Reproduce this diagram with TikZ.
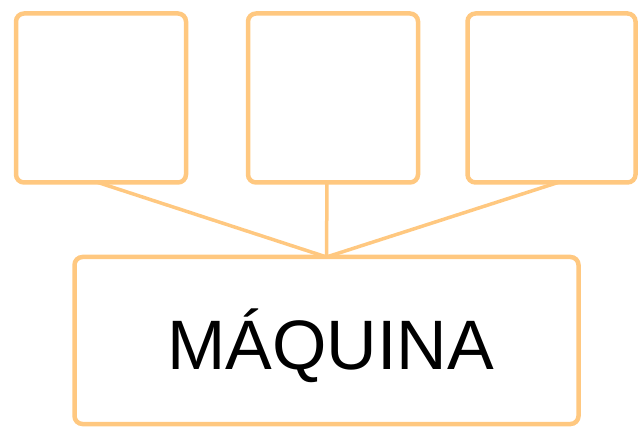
\documentclass[tikz,border=0pt]{standalone}
\usepackage{fontspec}
\setmainfont{Liberation Sans}
\definecolor{boxorange}{HTML}{FFC880}
\begin{document}
\begin{tikzpicture}[x=1pt,y=-1pt,
  box/.style={draw=boxorange,line width=4.5pt,rounded corners=8pt,inner sep=0pt,outer sep=0pt},
  link/.style={draw=boxorange,line width=3.5pt}]
\useasboundingbox (0,0) rectangle (644,427);
\node[box,minimum width=170pt,minimum height=169pt] (b1) at (101,98) {};
\node[box,minimum width=170pt,minimum height=169pt] (b2) at (333,98) {};
\node[box,minimum width=168pt,minimum height=169pt] (b3) at (551.5,98) {};
\node[box,minimum width=504pt,minimum height=167pt] (m) at (326.5,340.5) {};
\node[anchor=base,inner sep=0pt,font=\fontsize{70pt}{84pt}\selectfont] (lbl) at (330.5,369) {MÁQUINA};
\draw[link] ([xshift=-3pt]b1.south) -- (m.north);
\draw[link] ([xshift=-6pt]b2.south) -- (m.north);
\draw[link] ([xshift=6.5pt]b3.south) -- (m.north);
\end{tikzpicture}
\end{document}
